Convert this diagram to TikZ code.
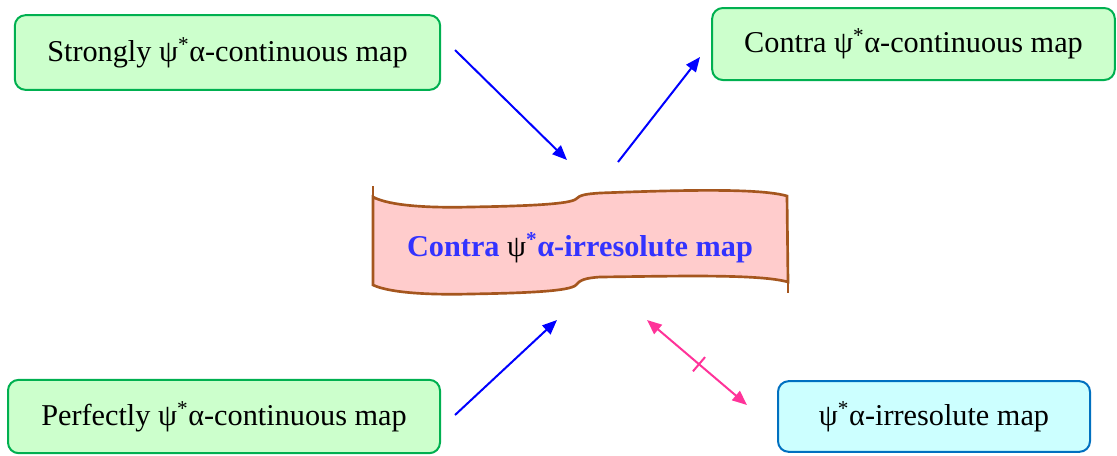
\documentclass[tikz,border=0pt]{standalone}
\usepackage{fontspec}
\setmainfont{Liberation Serif}
\usetikzlibrary{arrows.meta,calc}
\definecolor{gfill}{HTML}{CCFFCC}
\definecolor{gline}{HTML}{00B050}
\definecolor{cfill}{HTML}{CCFFFF}
\definecolor{cline}{HTML}{0070C0}
\definecolor{rfill}{HTML}{FFCCCC}
\definecolor{rline}{HTML}{A5561E}
\definecolor{tblue}{HTML}{3333FF}
\definecolor{apink}{HTML}{FF3399}
\begin{document}
\begin{tikzpicture}[x=0.75pt,y=-0.75pt,
  mapbox/.style={draw=gline, fill=gfill, line width=1.5pt, rounded corners=8pt, inner sep=0pt, align=center, font=\fontsize{22.7}{27}\selectfont},
  irrbox/.style={mapbox, draw=cline, fill=cfill},
  barrow/.style={draw=blue, line width=1.5pt, -{Triangle[length=11pt,width=9pt]}},
  parrow/.style={draw=apink, line width=1.5pt, {Triangle[length=11pt,width=9pt]}-{Triangle[length=11pt,width=9pt]}},
  ptick/.style={draw=apink, line width=1.5pt}]
\useasboundingbox (0,0) rectangle (1117,455);
\node[mapbox, minimum width=319pt, minimum height=56pt] (strong) at (227.5,52.5) {Strongly ψ\textsuperscript{*}α-continuous map};
\node[mapbox, minimum width=302pt, minimum height=54pt] (contra) at (913.5,44) {Contra ψ\textsuperscript{*}α-continuous map};
\node[mapbox, minimum width=324pt, minimum height=55pt] (perf) at (224,416.5) {Perfectly ψ\textsuperscript{*}α-continuous map};
\node[irrbox, minimum width=234pt, minimum height=53pt] (irr) at (934,416.5) {ψ\textsuperscript{*}α-irresolute map};
% banner
\filldraw[fill=rfill, draw=rline, line width=2pt]
  (373,197) .. controls (390,206) and (430,208) .. (470,207)
  .. controls (530,206) and (570,204) .. (576,199)
  .. controls (580,195) and (585,194) .. (600,193)
  .. controls (680,190) and (760,188) .. (787,196)
  -- (788,282)
  .. controls (760,274) and (680,276) .. (600,277)
  .. controls (585,278) and (580,280) .. (576,285)
  .. controls (570,291) and (530,293) .. (470,294)
  .. controls (430,295) and (390,293) .. (373,285) -- cycle;
\draw[draw=rline, line width=2pt] (373,197) -- (373,186) (788,282) -- (788,293);
\node[font=\fontsize{22.7}{27}\selectfont\bfseries, text=tblue, inner sep=0pt] (center) at (580,248)
  {Contra {\color{black}\mdseries ψ}\textsuperscript{*}α-irresolute map};
% arrows
\coordinate (a1s) at (455,50);  \coordinate (a1e) at (567,160);
\coordinate (a2s) at (618,162); \coordinate (a2e) at (700,57);
\coordinate (a3s) at (455,415); \coordinate (a3e) at (557,320);
\coordinate (p1) at (647,320);  \coordinate (p2) at (747,405);
\draw[barrow] (a1s) -- (a1e);
\draw[barrow] (a2s) -- (a2e);
\draw[barrow] (a3s) -- (a3e);
\draw[parrow] (p1) -- (p2);
\coordinate (pm) at ($(p1)!0.52!(p2)$);
\draw[ptick] ($(pm)!7pt!90:(p2)$) -- ($(pm)!7pt!-90:(p2)$);
\end{tikzpicture}
\end{document}
